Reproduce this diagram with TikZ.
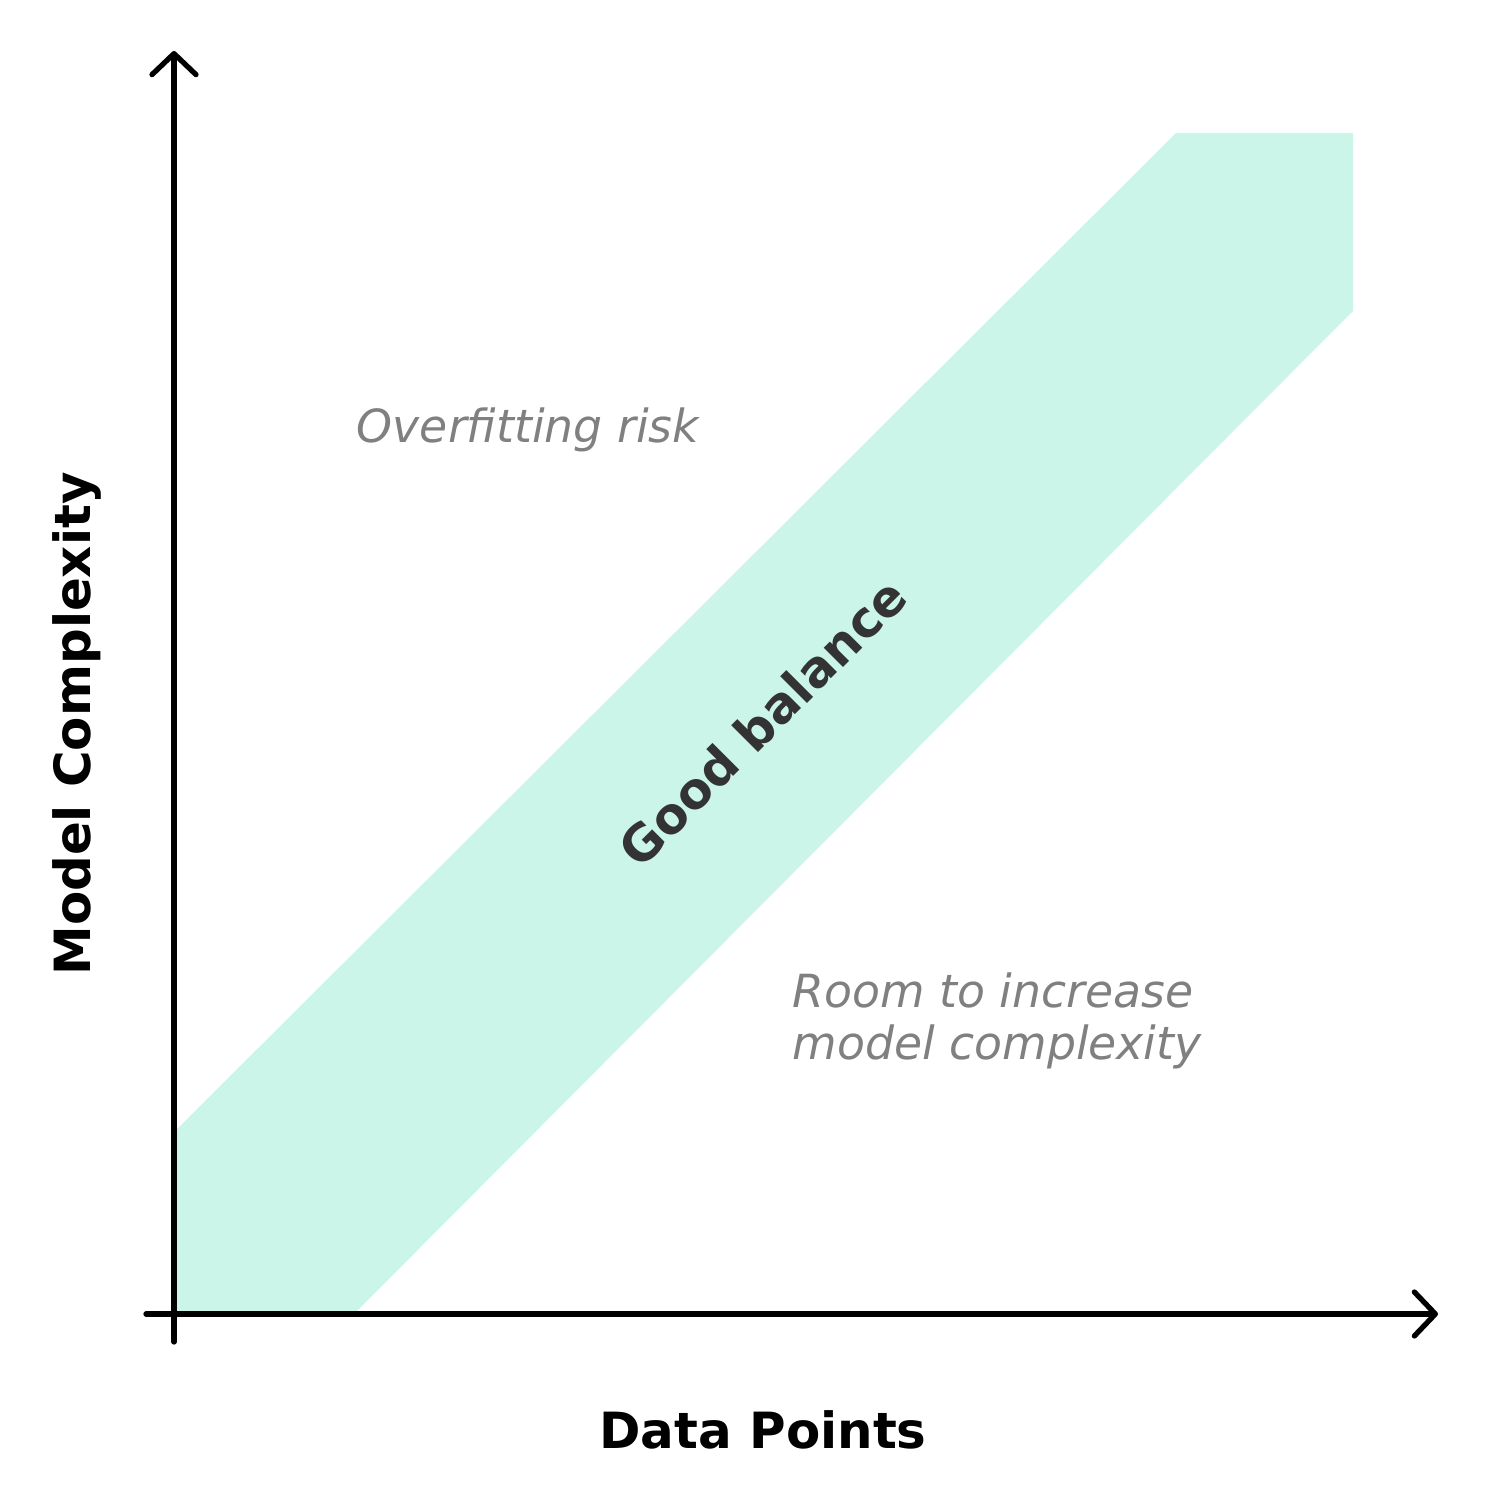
\documentclass[tikz,border=0pt]{standalone}
\usepackage{fontspec}
\setmainfont{DejaVu Sans}
\usetikzlibrary{arrows.meta}
\definecolor{bandmint}{RGB}{204,245,234}
\definecolor{notegray}{RGB}{128,128,128}
\definecolor{labeldark}{RGB}{51,51,51}

\begin{document}
\begin{tikzpicture}[
        axis/.style={draw=black, line width=1.5pt, line cap=round,
            -{Straight Barb[length=0.21cm, width=0.44cm, line cap=round, line join=round]}},
        band/.style={fill=bandmint, draw=none},
        note/.style={font=\fontsize{13}{14.6}\selectfont\itshape, text=notegray, align=left, inner sep=0pt},
        axislabel/.style={font=\fontsize{14.2}{17}\selectfont\bfseries, inner sep=0pt}
    ]
    \useasboundingbox (-1.74,-1.86) rectangle (13.26,13.14);

    % --- band ---
    \coordinate (b1) at (0,1.82);
    \coordinate (b2) at (10.02,11.81);
    \coordinate (b3) at (11.79,11.81);
    \coordinate (b4) at (11.79,10.03);
    \coordinate (b5) at (1.80,0);
    \coordinate (b6) at (0,0);
    \path[band] (b1) -- (b2) -- (b3) -- (b4) -- (b5) -- (b6) -- cycle;

    % --- axes ---
    \coordinate (ystart) at (0,-0.28);
    \coordinate (yend) at (0,12.63);
    \coordinate (xstart) at (-0.28,0);
    \coordinate (xend) at (12.64,0);
    \draw[axis] (ystart) -- (yend);
    \draw[axis] (xstart) -- (xend);

    % --- labels ---
    \node[note] (over) at (3.54,8.84) {Overfitting risk};
    \node[note, anchor=west] (room) at (6.18,2.93) {Room to increase\\model complexity};
    \node[axislabel, text=labeldark, rotate=45] (good) at (5.88,5.92) {Good balance};
    \node[axislabel] (xlab) at (5.89,-1.16) {Data Points};
    \node[axislabel, rotate=90] (ylab) at (-0.97,5.90) {Model Complexity};

\end{tikzpicture}
\end{document}
